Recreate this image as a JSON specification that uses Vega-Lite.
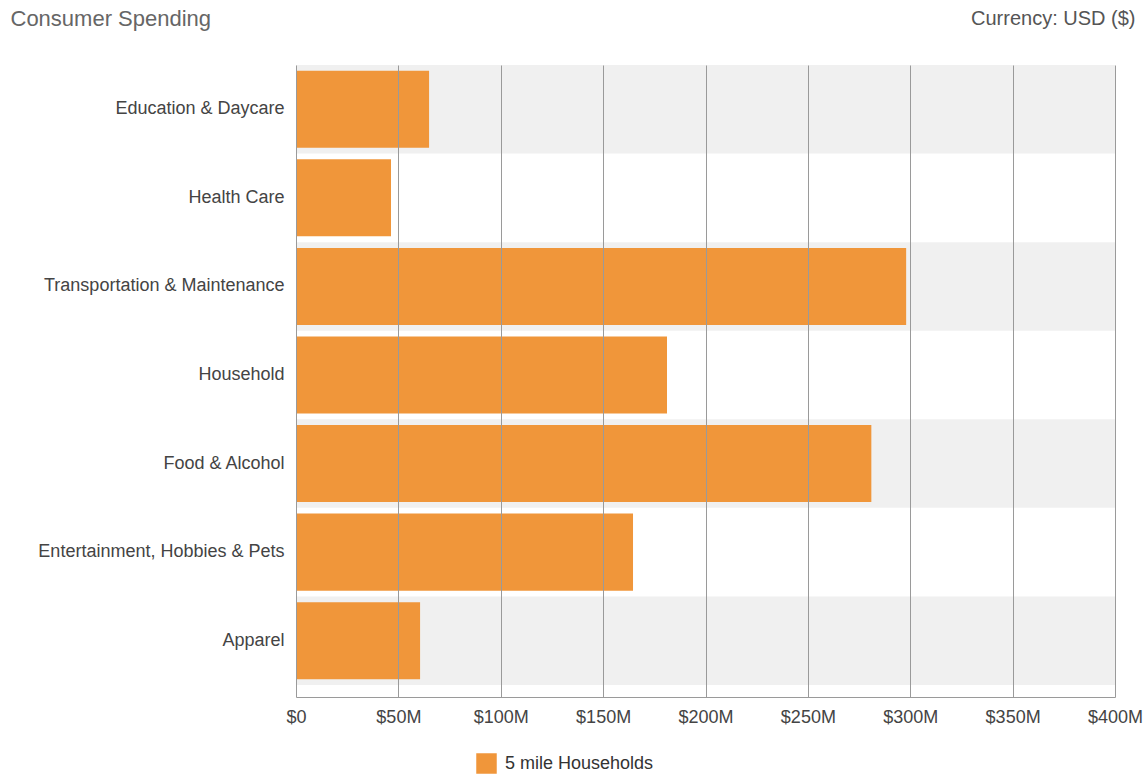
{
  "$schema": "https://vega.github.io/schema/vega-lite/v6.json",
  "width": 819,
  "height": 632,
  "autosize": {"type": "none"},
  "padding": {"left": 296, "top": 65, "right": 28, "bottom": 77},
  "background": "white",
  "config": {"font": "Liberation Sans", "view": {"stroke": null}},
  "data": {
    "values": [
      {"category": "Education & Daycare", "value": 65000000},
      {"category": "Health Care", "value": 46400000},
      {"category": "Transportation & Maintenance", "value": 298000000},
      {"category": "Household", "value": 181200000},
      {"category": "Food & Alcohol", "value": 281000000},
      {"category": "Entertainment, Hobbies & Pets", "value": 164600000},
      {"category": "Apparel", "value": 60600000}
    ]
  },
  "encoding": {
    "y": {
      "field": "category",
      "type": "nominal",
      "scale": {
        "domain": ["Education & Daycare", "Health Care", "Transportation & Maintenance", "Household", "Food & Alcohol", "Entertainment, Hobbies & Pets", "Apparel"],
        "paddingInner": 0,
        "paddingOuter": 0.068,
        "align": 0
      },
      "axis": {
        "domain": false,
        "ticks": false,
        "labelPadding": 12,
        "labelFontSize": 18,
        "labelLimit": 0,
        "labelColor": "#444444",
        "title": "Consumer Spending",
        "titleAngle": 0,
        "titleX": -286,
        "titleY": -47,
        "titleAlign": "left",
        "titleBaseline": "middle",
        "titleFontSize": 22,
        "titleFontWeight": "normal",
        "titleColor": "#666666"
      }
    }
  },
  "layer": [
    {
      "transform": [
        {"window": [{"op": "row_number", "as": "idx"}]},
        {"filter": "datum.idx % 2 == 1"}
      ],
      "mark": {"type": "rect", "color": "#f0f0f0"},
      "encoding": {
        "x": {"datum": 0, "type": "quantitative"},
        "x2": {"datum": 400000000}
      }
    },
    {
      "mark": {"type": "bar", "height": {"band": 0.87}},
      "encoding": {
        "x": {
          "field": "value",
          "type": "quantitative",
          "scale": {"domain": [0, 400000000], "nice": false},
          "axis": {
            "values": [0, 50000000, 100000000, 150000000, 200000000, 250000000, 300000000, 350000000, 400000000],
            "labelExpr": "datum.value == 0 ? '$0' : '$' + (datum.value / 1000000) + 'M'",
            "grid": true,
            "gridColor": "#9a9a9a",
            "gridWidth": 1,
            "domain": true,
            "domainColor": "#9a9a9a",
            "ticks": false,
            "labelPadding": 11,
            "labelFontSize": 18,
            "labelColor": "#444444",
            "labelFlush": false,
            "zindex": 1,
            "title": "Currency: USD ($)",
            "titleAngle": 0,
            "titleX": 839,
            "titleY": -679,
            "titleAlign": "right",
            "titleBaseline": "middle",
            "titleFontSize": 20,
            "titleFontWeight": "normal",
            "titleColor": "#555555"
          }
        },
        "color": {
          "datum": "5 mile Households",
          "type": "nominal",
          "scale": {"range": ["#F0963A"]},
          "legend": {
            "orient": "none",
            "legendX": 180,
            "legendY": 688,
            "title": null,
            "padding": 0,
            "symbolType": "square",
            "symbolSize": 420,
            "symbolStrokeWidth": 0,
            "labelFontSize": 18,
            "labelColor": "#333333",
            "labelOffset": 8
          }
        }
      }
    }
  ]
}
